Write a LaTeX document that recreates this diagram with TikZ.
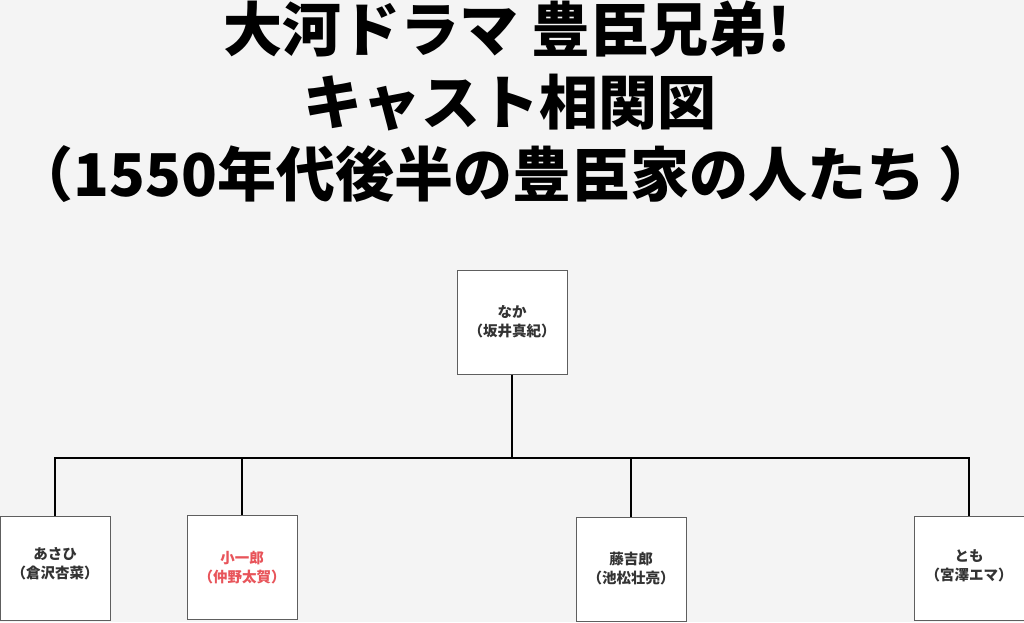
\documentclass[tikz,border=0pt]{standalone}
\usepackage{fontspec}
\setmainfont{Noto Sans CJK JP}
\definecolor{bg}{HTML}{F4F4F4}
\definecolor{boxgray}{HTML}{5E5E5E}
\definecolor{namegray}{HTML}{333333}
\definecolor{namered}{HTML}{E8545A}
\begin{document}
\begin{tikzpicture}[x=1pt, y=-1pt]
\tikzstyle{person}=[draw=boxgray, line width=1pt, fill=white, minimum width=110pt, minimum height=104pt, inner sep=0pt]
\tikzstyle{who}=[font=\fontsize{14.5}{19}\selectfont\bfseries, text=namegray, align=center, inner sep=0pt]
\tikzstyle{head}=[font=\fontsize{59}{71}\selectfont\bfseries, anchor=base, inner sep=0pt]
\tikzstyle{link}=[line width=2pt]

\fill[bg] (0,0) rectangle (1024,622);
\useasboundingbox (0,0) rectangle (1024,622);

\node[head] (title1) at (507,51) {大河ドラマ 豊臣兄弟!};
\node[head] (title2) at (510,124) {キャスト相関図};
\node[head] (title3) at (506,196) {（1550年代後半の豊臣家の人たち ）};

\node[person] (naka) at (512,322) {};
\node[person] (asahi) at (55,568.5) {};
\node[person] (koichiro) at (242,567.5) {};
\node[person] (tokichiro) at (631,569) {};
\node[person] (tomo) at (969,568) {};

\node[who] (naka-t) at (naka.center) {なか\\（坂井真紀）};
\node[who] (asahi-t) at ([yshift=5pt]asahi.center) {あさひ\\（倉沢杏菜）};
\node[who, text=namered] (koichiro-t) at (koichiro.center) {小一郎\\（仲野太賀）};
\node[who] (tokichiro-t) at (tokichiro.center) {藤吉郎\\（池松壮亮）};
\node[who] (tomo-t) at ([yshift=2pt]tomo.center) {とも\\（宮澤エマ）};

\coordinate (bus) at (512,458);
\draw[link] (naka) -- (bus);
\draw[link] (asahi) |- (bus) -| (tomo);
\draw[link] (koichiro) -- (koichiro |- bus);
\draw[link] (tokichiro) -- (tokichiro |- bus);
\end{tikzpicture}
\end{document}
